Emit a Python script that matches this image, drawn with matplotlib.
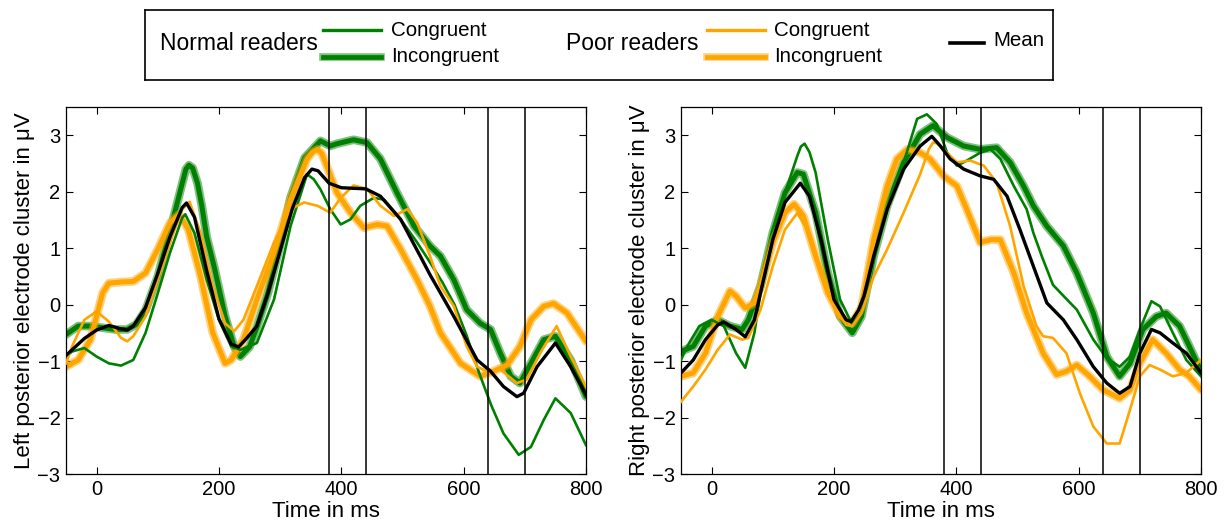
import matplotlib.pyplot as plt

plt.rcParams['font.family'] = ['Liberation Sans', 'DejaVu Sans']

green = '#008000'
orange = '#ffa500'

# ---- left posterior cluster (time in ms, amplitude in uV) ----
left_nc_t = [-50, -40, -20, 0, 20, 40, 60, 80, 100, 120, 140, 145, 160, 180, 200, 220, 235,
             262, 290, 317, 344, 355, 366, 382, 399, 415, 431, 453, 470, 497, 524, 545, 565,
             585, 605, 625, 645, 665, 690, 710, 731, 750, 775, 800]
left_nc_v = [-0.92, -0.83, -0.77, -0.92, -1.04, -1.08, -0.98, -0.5, 0.2, 0.92, 1.54, 1.6, 1.27,
             0.44, -0.27, -0.74, -0.8, -0.68, 0.09, 1.39, 2.31, 2.22, 2.04, 1.69, 1.42, 1.51,
             1.75, 1.89, 1.86, 1.51, 1.1, 0.75, 0.4, 0.0, -0.55, -1.2, -1.78, -2.28, -2.66,
             -2.52, -2.04, -1.66, -1.92, -2.49]

left_ni_t = [-50, -30, -10, 10, 30, 50, 65, 80, 100, 120, 140, 146, 151, 157, 165, 172, 180,
             192, 210, 225, 235, 250, 262, 280, 300, 317, 340, 366, 382, 393, 420, 442, 464,
             491, 519, 545, 562, 584, 605, 627, 644, 660, 677, 692, 710, 731, 750, 775, 800]
left_ni_v = [-0.53, -0.38, -0.38, -0.41, -0.44, -0.44, -0.35, -0.1, 0.5, 1.3, 2.15, 2.4, 2.47,
             2.42, 2.15, 1.75, 1.2, 0.68, -0.2, -0.75, -0.92, -0.75, -0.4, 0.2, 1.05, 1.9, 2.6,
             2.9, 2.81, 2.85, 2.92, 2.87, 2.58, 1.98, 1.39, 1.04, 0.86, 0.44, -0.09, -0.33,
             -0.44, -0.86, -1.27, -1.39, -1.04, -0.62, -0.56, -0.98, -1.63]

left_pc_t = [-50, -40, -20, 0, 20, 40, 50, 60, 80, 100, 120, 140, 152, 170, 190, 210, 225,
             240, 262, 290, 317, 339, 361, 382, 399, 420, 442, 464, 486, 508, 524, 545, 562,
             584, 605, 622, 638, 660, 687, 703, 725, 752, 775, 800]
left_pc_v = [-1.04, -0.74, -0.27, -0.12, -0.3, -0.59, -0.65, -0.56, -0.21, 0.44, 1.1, 1.69,
             1.82, 1.27, 0.33, -0.33, -0.47, -0.27, 0.33, 1.1, 1.69, 1.81, 1.75, 1.63, 1.89,
             2.11, 2.05, 1.75, 1.57, 1.69, 1.45, 0.86, 0.33, -0.03, -0.74, -1.1, -1.18, -1.15,
             -1.39, -1.33, -0.86, -0.38, -0.92, -1.45]

left_pi_t = [-50, -30, -10, 0, 10, 20, 40, 60, 80, 100, 120, 135, 150, 170, 190, 210, 220,
             240, 262, 290, 317, 344, 353, 361, 368, 376, 393, 415, 437, 459, 475, 497, 524,
             545, 562, 595, 627, 649, 671, 692, 710, 731, 747, 769, 800]
left_pi_v = [-1.1, -0.98, -0.62, -0.2, 0.21, 0.38, 0.4, 0.41, 0.56, 0.98, 1.45, 1.6, 1.33,
             0.5, -0.5, -1.04, -0.98, -0.62, 0.09, 0.92, 1.86, 2.58, 2.7, 2.75, 2.68, 2.46,
             1.98, 1.63, 1.36, 1.42, 1.39, 0.98, 0.44, -0.03, -0.5, -1.04, -1.27, -1.18, -1.07,
             -0.74, -0.27, -0.03, 0.02, -0.15, -0.65]

left_mean_t = [-50, -20, 0, 20, 40, 50, 60, 80, 100, 120, 140, 147, 160, 180, 200, 220, 232,
               245, 262, 280, 300, 320, 340, 352, 362, 380, 400, 420, 440, 464, 497, 529, 545,
               584, 622, 644, 665, 687, 698, 720, 750, 775, 800]
left_mean_v = [-0.9, -0.6, -0.45, -0.37, -0.43, -0.45, -0.38, -0.05, 0.55, 1.2, 1.72, 1.8,
               1.55, 0.6, -0.25, -0.7, -0.75, -0.6, -0.38, 0.2, 0.95, 1.7, 2.25, 2.4, 2.37,
               2.15, 2.07, 2.06, 2.05, 1.92, 1.51, 0.86, 0.53, -0.21, -0.98, -1.18, -1.45,
               -1.63, -1.57, -1.1, -0.68, -1.1, -1.6]

# ---- right posterior cluster ----
right_nc_t = [-50, -40, -20, 0, 20, 40, 55, 70, 80, 100, 120, 140, 146, 152, 160, 170, 190,
              210, 230, 245, 265, 287, 314, 336, 352, 368, 385, 401, 417, 439, 456, 472, 494,
              515, 526, 540, 558, 580, 597, 624, 646, 667, 684, 700, 719, 733, 754, 776, 800]
right_nc_v = [-0.98, -0.74, -0.38, -0.27, -0.38, -0.86, -1.12, -0.5, 0.21, 1.15, 1.98, 2.63,
              2.8, 2.85, 2.7, 2.34, 1.15, 0.09, -0.35, -0.15, 0.86, 1.69, 2.52, 3.29, 3.37,
              3.2, 2.69, 2.46, 2.55, 2.69, 2.75, 2.58, 2.1, 1.69, 1.27, 0.85, 0.35, 0.1, -0.09,
              -0.62, -0.95, -1.1, -0.92, -0.44, 0.06, -0.03, -0.5, -0.98, -1.27]

right_ni_t = [-50, -30, -10, 10, 30, 50, 60, 80, 100, 120, 140, 150, 170, 190, 210, 230, 245,
              265, 287, 314, 341, 362, 385, 412, 439, 466, 488, 510, 526, 548, 575, 597, 624,
              646, 667, 684, 705, 727, 743, 765, 781, 800]
right_ni_v = [-0.83, -0.74, -0.38, -0.27, -0.38, -0.44, -0.27, 0.33, 1.27, 1.98, 2.34, 2.31,
              1.63, 0.56, -0.21, -0.5, -0.21, 0.86, 1.75, 2.52, 3.02, 3.17, 2.96, 2.81, 2.75,
              2.78, 2.52, 2.1, 1.75, 1.39, 1.04, 0.56, -0.15, -0.92, -1.27, -1.04, -0.44,
              -0.21, -0.15, -0.38, -0.74, -1.18]

right_pc_t = [-50, -30, -10, 10, 30, 50, 60, 80, 100, 120, 140, 160, 180, 200, 220, 230, 245,
              265, 287, 314, 341, 355, 362, 368, 379, 401, 423, 445, 466, 488, 510, 531, 542,
              558, 580, 602, 624, 646, 667, 684, 700, 716, 733, 754, 776, 800]
right_pc_v = [-1.72, -1.45, -1.15, -0.8, -0.53, -0.62, -0.59, -0.09, 0.68, 1.33, 1.62, 1.27,
              0.56, -0.03, -0.36, -0.38, -0.15, 0.5, 0.98, 1.63, 2.31, 2.75, 2.87, 2.86, 2.75,
              2.52, 2.55, 2.46, 2.16, 1.39, 0.33, -0.38, -0.56, -0.59, -0.86, -1.57, -2.16,
              -2.46, -2.46, -1.86, -1.27, -1.07, -1.15, -1.27, -1.21, -0.98]

right_pi_t = [-50, -30, -10, 10, 30, 40, 55, 70, 80, 100, 120, 135, 150, 170, 190, 210, 230,
              245, 265, 287, 303, 320, 341, 357, 379, 401, 417, 439, 456, 472, 494, 515, 542,
              564, 580, 597, 618, 640, 667, 684, 700, 721, 743, 765, 781, 800]
right_pi_v = [-1.27, -1.21, -0.86, -0.21, 0.24, 0.15, -0.06, 0.03, 0.33, 1.1, 1.63, 1.78,
              1.57, 0.86, 0.21, -0.21, -0.33, -0.05, 1.15, 2.1, 2.58, 2.75, 2.69, 2.58, 2.28,
              2.1, 1.69, 1.1, 1.15, 1.15, 0.56, -0.15, -0.86, -1.24, -1.18, -1.07, -1.27,
              -1.51, -1.66, -1.51, -1.04, -0.62, -0.86, -1.15, -1.27, -1.51]

right_mean_t = [-50, -30, -10, 10, 20, 40, 55, 70, 80, 100, 120, 145, 160, 180, 200, 220, 228,
                240, 249, 265, 287, 314, 341, 360, 374, 390, 412, 439, 461, 483, 504, 526, 548,
                575, 597, 624, 646, 667, 684, 700, 719, 733, 754, 776, 800]
right_mean_v = [-1.21, -0.98, -0.62, -0.36, -0.31, -0.44, -0.57, -0.27, 0.21, 1.15, 1.81,
                2.15, 1.92, 1.1, 0.09, -0.27, -0.3, -0.1, 0.15, 0.86, 1.69, 2.4, 2.81, 2.98,
                2.81, 2.58, 2.4, 2.28, 2.22, 1.92, 1.33, 0.68, 0.03, -0.27, -0.62, -1.1, -1.39,
                -1.57, -1.45, -0.86, -0.44, -0.5, -0.68, -0.86, -1.21]

windows = [380, 440, 640, 700]
xticks = [0, 200, 400, 600, 800]
yticks = [-3, -2, -1, 0, 1, 2, 3]


def thick(ax, t, v, color):
    # starred thick line of the original, faked with two widths
    ax.plot(t, v, color=color, lw=6.2, alpha=0.5, solid_capstyle='round',
            solid_joinstyle='round', zorder=2)
    ax.plot(t, v, color=color, lw=3.6, solid_capstyle='round', solid_joinstyle='round',
            zorder=2)


def panel(ax, data, ylabel):
    nc, ni, pc, pi, mean = data
    thick(ax, ni[0], ni[1], green)
    thick(ax, pi[0], pi[1], orange)
    ax.plot(nc[0], nc[1], color=green, lw=1.9, solid_joinstyle='round', zorder=3)
    ax.plot(pc[0], pc[1], color=orange, lw=1.9, solid_joinstyle='round', zorder=3)
    ax.plot(mean[0], mean[1], color='black', lw=2.4, solid_joinstyle='round', zorder=4)
    ax.vlines(windows, -3, 3.5, colors='black', lw=1.1, zorder=5)
    ax.set_xlim(-50, 800)
    ax.set_ylim(-3, 3.5)
    ax.set_xticks(xticks)
    ax.set_yticks(yticks)
    ax.tick_params(direction='in', top=True, right=True, length=5, width=0.8,
                   labelsize=14.5, pad=4)
    for s in ax.spines.values():
        s.set_linewidth(0.9)
    ax.set_xlabel('Time in ms', fontsize=16, labelpad=2)
    ax.set_ylabel(ylabel, fontsize=16, labelpad=2)


fig = plt.figure(figsize=(12.25, 5.26), dpi=100)
W, H = 1225, 526
ax1 = fig.add_axes([66 / W, 1 - 474 / H, (586 - 66) / W, (474 - 107) / H])
ax2 = fig.add_axes([681 / W, 1 - 474 / H, (1201 - 681) / W, (474 - 107) / H])

panel(ax1, [(left_nc_t, left_nc_v), (left_ni_t, left_ni_v), (left_pc_t, left_pc_v),
            (left_pi_t, left_pi_v), (left_mean_t, left_mean_v)],
      'Left posterior electrode cluster in \u03bcV')
panel(ax2, [(right_nc_t, right_nc_v), (right_ni_t, right_ni_v), (right_pc_t, right_pc_v),
            (right_pi_t, right_pi_v), (right_mean_t, right_mean_v)],
      'Right posterior electrode cluster in \u03bcV')

# legend box drawn by hand (grouped layout)
lg = fig.add_axes([145 / W, 1 - 80 / H, (1053 - 145) / W, (80 - 10) / H])
lg.set_xlim(145, 1053)
lg.set_ylim(80, 10)
lg.set_xticks([])
lg.set_yticks([])
for s in lg.spines.values():
    s.set_linewidth(1.2)

lg.text(160, 43, 'Normal readers', fontsize=16.5, va='center', ha='left')
lg.plot([323, 381], [30, 30], color=green, lw=2.4)
lg.text(391, 30, 'Congruent', fontsize=14.8, va='center', ha='left')
lg.plot([323, 381], [57, 57], color=green, lw=5.5, alpha=0.5)
lg.plot([323, 381], [57, 57], color=green, lw=3.4)
lg.text(391, 56, 'Incongruent', fontsize=14.8, va='center', ha='left')

lg.text(566, 43, 'Poor readers', fontsize=16.5, va='center', ha='left')
lg.plot([707, 765], [30, 30], color=orange, lw=2.4)
lg.text(774, 30, 'Congruent', fontsize=14.8, va='center', ha='left')
lg.plot([707, 765], [57, 57], color=orange, lw=5.5, alpha=0.5)
lg.plot([707, 765], [57, 57], color=orange, lw=3.4)
lg.text(774, 56, 'Incongruent', fontsize=14.8, va='center', ha='left')

lg.plot([950, 984], [43, 43], color='black', lw=2.6)
lg.text(993, 41, 'Mean', fontsize=14.8, va='center', ha='left')

fig.savefig('out.png', dpi=100)
